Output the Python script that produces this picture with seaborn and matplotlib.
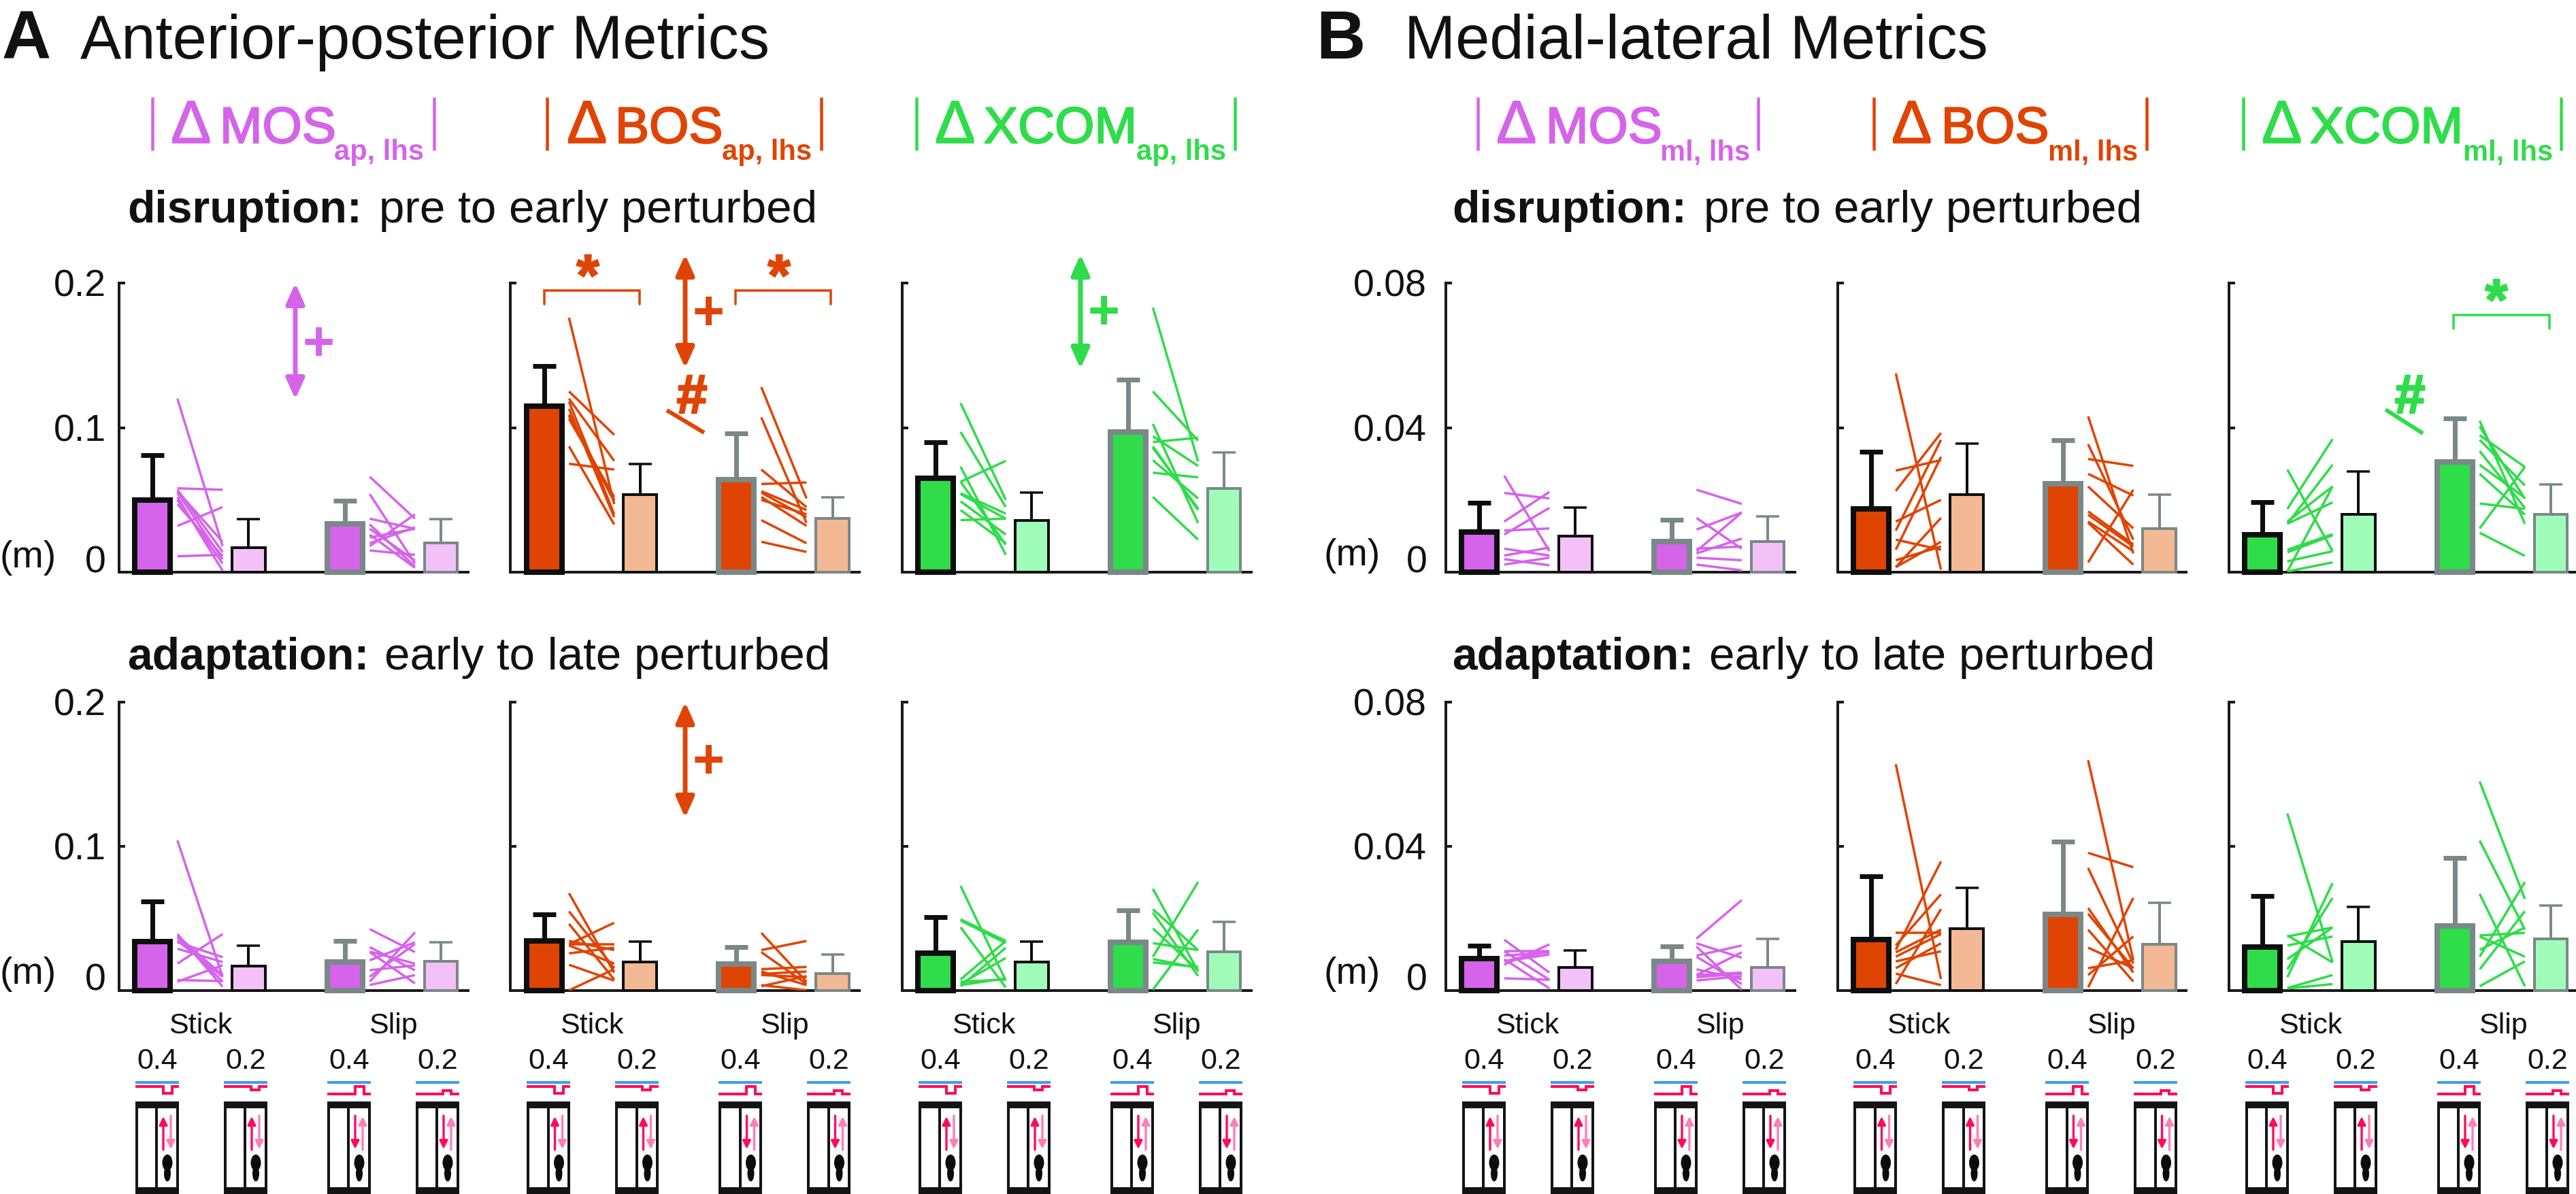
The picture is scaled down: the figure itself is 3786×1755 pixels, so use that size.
import numpy as np
import pandas as pd
import matplotlib
matplotlib.use("Agg")
import matplotlib.pyplot as plt
import matplotlib.patheffects as pe
import seaborn as sns
from matplotlib.patches import Ellipse, Rectangle

sns.set_style("white")
plt.rcParams["font.family"] = ["Liberation Sans", "DejaVu Sans"]

# -- values: bar heights, error tops, subject lines (pre, post)
conds = ["Stick 0.4", "Stick 0.2", "Slip 0.4", "Slip 0.2"]

# anterior-posterior, disruption
ap_dis_mos_bar = [0.050, 0.017, 0.0336, 0.0204]
ap_dis_mos_err = [0.081, 0.0367, 0.0496, 0.0367]
ap_dis_mos_stick = [(.120, .018), (.058, .057), (.032, .045), (.011, .012), (.057, .014),
                    (.055, .009), (.052, .001), (.050, .006), (.047, .011), (.056, .021)]
ap_dis_mos_slip = [(.066, .037), (.054, .006), (.037, .030), (.030, .008), (.024, .030),
                   (.018, .040), (.026, .003), (.033, .004), (.020, .031), (.015, .012)]
ap_dis_bos_bar = [0.115, 0.0537, 0.064, 0.037]
ap_dis_bos_err = [0.1424, 0.0747, 0.096, 0.052]
ap_dis_bos_stick = [(.176, .047), (.125, .095), (.120, .077), (.108, .049), (.087, .033),
                    (.075, .071), (.118, .040), (.109, .050), (.113, .038), (.106, .052)]
ap_dis_bos_slip = [(.128, .051), (.107, .034), (.071, .045), (.061, .062), (.055, .038),
                   (.052, .032), (.050, .040), (.036, .020), (.021, .014), (.056, .043)]
ap_dis_xcom_bar = [0.065, 0.036, 0.097, 0.058]
ap_dis_xcom_err = [0.090, 0.055, 0.133, 0.083]
ap_dis_xcom_stick = [(.117, .050), (.097, .045), (.073, .012), (.0625, .077), (.0546, .0405),
                     (.054, .037), (.049, .026), (.043, .020), (.036, .037), (.0625, .019)]
ap_dis_xcom_slip = [(.183, .0766), (.125, .091), (.1025, .034), (.094, .0735), (.090, .093),
                    (.087, .043), (.0774, .051), (.0688, .0656), (.052, .0225), (.086, .044)]

# anterior-posterior, adaptation
ap_ada_mos_bar = [0.034, 0.0169, 0.0198, 0.0203]
ap_ada_mos_err = [0.0617, 0.0312, 0.0344, 0.0335]
ap_ada_mos_stick = [(.1041, .0096), (.0392, .0027), (.0369, .0062), (.0335, .0232), (.029, .0198),
                    (.0187, .0392), (.0062, .0175), (.0073, .0066), (.0346, .0096), (.038, .0107)]
ap_ada_mos_slip = [(.0426, .0267), (.0301, .0141), (.0267, .005), (.021, .0335), (.0141, .0175),
                   (.0062, .0403), (.0039, .0107), (.0096, .0323), (.027, .0187)]
ap_ada_bos_bar = [0.0344, 0.020, 0.0184, 0.012]
ap_ada_bos_err = [0.0528, 0.034, 0.0303, 0.025]
ap_ada_bos_stick = [(.0675, .0124), (.0549, .0156), (.0462, .0077), (.0321, .047), (.032, .032),
                    (.0258, .0297), (.0344, .0281), (.0179, .0069), (.0002, .0148), (.0313, .0187)]
ap_ada_bos_slip = [(.040, .0061), (.0281, .0344), (.0266, .0046), (.0148, .0164), (.0116, .0132),
                   (.003, .010), (.0038, .0002), (.0132, .0038), (.0108, .0093)]
ap_ada_xcom_bar = [0.0258, 0.020, 0.0336, 0.027]
ap_ada_xcom_err = [0.0509, 0.034, 0.0557, 0.0476]
ap_ada_xcom_stick = [(.0726, .0069), (.0494, .0344), (.0486, .0329), (.0439, .0022), (.0077, .0344),
                     (.003, .0297), (.0046, .0226), (.0061, .0077), (.0038, .0085)]
ap_ada_xcom_slip = [(.0706, .0132), (.0564, .0281), (.0541, .0101), (.0431, .014), (.0329, .0281),
                    (.0234, .0753), (.0219, .0156), (.0195, .0164), (.0006, .0423)]

# medial-lateral, disruption
ml_dis_mos_bar = [0.0112, 0.0099, 0.0084, 0.0084]
ml_dis_mos_err = [0.0192, 0.0178, 0.0145, 0.0154]
ml_dis_mos_stick = [(.0267, .0058), (.0219, .0204), (.014, .0222), (.0115, .0121), (.0104, .0178),
                    (.0065, .0046), (.0046, .0068), (.0036, .0019), (.0021, .004)]
ml_dis_mos_slip = [(.0228, .0189), (.015, .0065), (.0058, .0165), (.0052, .0093), (.004, .0033),
                   (.0021, .0005), (.0118, .0165), (.0065, .0071)]
ml_dis_bos_bar = [0.0176, 0.0215, 0.0244, 0.0121]
ml_dis_bos_err = [0.0334, 0.0355, 0.0365, 0.0215]
ml_dis_bos_stick = [(.055, .0007), (.0281, .031), (.0225, .0385), (.014, .020), (.0062, .0319),
                    (.009, .0062), (.0014, .0084), (.0014, .015), (.0115, .0366), (.0033, .0071)]
ml_dis_bos_slip = [(.0431, .0052), (.0354, .009), (.0313, .0294), (.0272, .0212), (.0237, .0121),
                   (.0168, .0077), (.0159, .0071), (.0027, .0228), (.014, .0058), (.0137, .0021)]
ml_dis_xcom_bar = [0.0104, 0.016, 0.0305, 0.016]
ml_dis_xcom_err = [0.0193, 0.0278, 0.0425, 0.0242]
ml_dis_xcom_stick = [(.0284, .0058), (.0175, .0368), (.0134, .0297), (.014, .0237), (.0134, .0193),
                     (.0062, .0105), (.0055, .0102), (.003, .0058), (.0002, .0027), (.0002, .0237)]
ml_dis_xcom_slip = [(.0419, .0134), (.0403, .0203), (.0379, .0291), (.0297, .0206), (.0272, .0159),
                    (.019, .0175), (.0121, .0291), (.0109, .0045), (.0366, .024), (.0335, .0178)]

# medial-lateral, adaptation
ml_ada_mos_bar = [0.0089, 0.0064, 0.0081, 0.0064]
ml_ada_mos_err = [0.0125, 0.0111, 0.0122, 0.0144]
ml_ada_mos_stick = [(.0141, .005), (.0109, .0109), (.0097, .0106), (.0081, .010), (.0072, .0128),
                    (.0034, .003), (.0087, .0006), (.0109, .003), (.0081, .0109)]
ml_ada_mos_slip = [(.0144, .0251), (.0131, .0091), (.0097, .0125), (.0043, .005), (.0037, .0047),
                   (.0028, .004), (.0122, .0002), (.0059, .0031), (.0043, .0106), (.0094, .0018)]
ml_ada_bos_bar = [0.0141, 0.0172, 0.0212, 0.0128]
ml_ada_bos_err = [0.0317, 0.0284, 0.0414, 0.0243]
ml_ada_bos_stick = [(.0628, .0032), (.0113, .0358), (.016, .016), (.0081, .0109), (.0047, .0015),
                    (.0018, .0226), (.0125, .0267), (.0094, .0157), (.0106, .0169), (.0062, .0131)]
ml_ada_bos_slip = [(.0639, .0085), (.0382, .0342), (.034, .0075), (.0229, .005), (.0213, .0062),
                   (.0119, .0062), (.0062, .0084), (.0009, .0257), (.0043, .015), (.0169, .0025)]
ml_ada_xcom_bar = [0.012, 0.0136, 0.018, 0.0144]
ml_ada_xcom_err = [0.0262, 0.0232, 0.0368, 0.0236]
ml_ada_xcom_stick = [(.0491, .0079), (.015, .0175), (.0037, .0298), (.0059, .0257), (.0087, .0175),
                     (.0153, .0078), (.0007, .0043), (.0006, .0018), (.0125, .015)]
ml_ada_xcom_slip = [(.058, .0254), (.0416, .0169), (.0268, .0012), (.0153, .016), (.0059, .022),
                    (.0012, .0081), (.015, .0094), (.0113, .0175), (.0094, .0301)]

mos_col, mos_light = "#D564EA", "#F3C1F7"
bos_col, bos_light = "#E04403", "#F3B995"
xcom_col, xcom_light = "#2FDC4A", "#9FFDB9"
dark = "#0D0F0E"
grey = "#7A8888"
PX = 0.72  # one pixel in points at dpi 100
W, H = 3787, 1755

fig = plt.figure(figsize=(W / 100, H / 100), dpi=100)


def make_axes(x0, y_top, y_base):
    return fig.add_axes([x0 / W, 1 - y_base / H, 513 / W, (y_base - y_top) / H])


def bar_panel(ax, bars, errs, stick, slip, col, light, ymax, ticks, bottom, pad):
    df = pd.DataFrame({"cond": conds, "val": bars})
    sns.barplot(data=df, x="cond", y="val", hue="cond", palette=[col, light, col, light],
                saturation=1, width=0.37, legend=False, ax=ax, zorder=3)
    edges = [dark, dark, grey, grey]
    for i, p in enumerate(ax.patches[:4]):
        thick = i % 2 == 0
        c = p.get_x() + p.get_width() / 2
        w = 0.368 if thick else 0.345
        p.set_x(c - w / 2)
        p.set_width(w)
        p.set_edgecolor(edges[i])
        p.set_linewidth((8 if thick else 4) * PX)
        p.set_clip_on(False)
        ax.errorbar([i], [bars[i]], yerr=[[0], [errs[i] - bars[i]]], color=edges[i],
                    elinewidth=(7 if thick else 4) * PX, capthick=(7 if thick else 3.5) * PX,
                    capsize=17 * PX, zorder=2)
    for pre, post in stick:
        ax.plot([0.26, 0.73], [pre, post], color=col, lw=3.5 * PX, solid_capstyle="butt", zorder=4)
    for pre, post in slip:
        ax.plot([2.26, 2.73], [pre, post], color=col, lw=3.5 * PX, solid_capstyle="butt", zorder=4)
    ax.set_xlim(-0.347, 3.283)
    ax.set_ylim(0, ymax)
    ax.set_xlabel("")
    ax.set_ylabel("")
    sns.despine(ax=ax)
    for s in ["left", "bottom"]:
        ax.spines[s].set_linewidth(4 * PX)
        ax.spines[s].set_color("#1a1a1a")
    ax.set_yticks(ticks)
    ax.tick_params(axis="y", direction="in", length=9 * PX, width=4 * PX, pad=pad, labelsize=40,
                   left=True, color="#1a1a1a", labelcolor="#111111")
    if pad:
        ax.set_yticklabels(["0", f"{ticks[1]:g}", f"{ticks[2]:g}"])
        ax.get_yticklabels()[0].set_va("baseline")
    else:
        ax.set_yticklabels([])
    ax.set_xticks([0.5, 2.5] if bottom else [])
    if bottom:
        ax.set_xticklabels(["Stick", "Slip"])
        ax.tick_params(axis="x", length=0, labelsize=31, pad=23, labelcolor="#111111")
    ax.patch.set_alpha(0)


rows = [(416, 841), (1032, 1456)]
groups = [
    (175, 0.2, [0, 0.1, 0.2], 14, [
        [(ap_dis_mos_bar, ap_dis_mos_err, ap_dis_mos_stick, ap_dis_mos_slip, mos_col, mos_light),
         (ap_dis_bos_bar, ap_dis_bos_err, ap_dis_bos_stick, ap_dis_bos_slip, bos_col, bos_light),
         (ap_dis_xcom_bar, ap_dis_xcom_err, ap_dis_xcom_stick, ap_dis_xcom_slip, xcom_col, xcom_light)],
        [(ap_ada_mos_bar, ap_ada_mos_err, ap_ada_mos_stick, ap_ada_mos_slip, mos_col, mos_light),
         (ap_ada_bos_bar, ap_ada_bos_err, ap_ada_bos_stick, ap_ada_bos_slip, bos_col, bos_light),
         (ap_ada_xcom_bar, ap_ada_xcom_err, ap_ada_xcom_stick, ap_ada_xcom_slip, xcom_col, xcom_light)]]),
    (2125, 0.08, [0, 0.04, 0.08], 20, [
        [(ml_dis_mos_bar, ml_dis_mos_err, ml_dis_mos_stick, ml_dis_mos_slip, mos_col, mos_light),
         (ml_dis_bos_bar, ml_dis_bos_err, ml_dis_bos_stick, ml_dis_bos_slip, bos_col, bos_light),
         (ml_dis_xcom_bar, ml_dis_xcom_err, ml_dis_xcom_stick, ml_dis_xcom_slip, xcom_col, xcom_light)],
        [(ml_ada_mos_bar, ml_ada_mos_err, ml_ada_mos_stick, ml_ada_mos_slip, mos_col, mos_light),
         (ml_ada_bos_bar, ml_ada_bos_err, ml_ada_bos_stick, ml_ada_bos_slip, bos_col, bos_light),
         (ml_ada_xcom_bar, ml_ada_xcom_err, ml_ada_xcom_stick, ml_ada_xcom_slip, xcom_col, xcom_light)]]),
]

for x_start, ymax, ticks, pad, panel_rows in groups:
    for r, panels in enumerate(panel_rows):
        for k, (bars, errs, stick, slip, col, light) in enumerate(panels):
            ax = make_axes(x_start + k * 575.5, rows[r][0], rows[r][1])
            bar_panel(ax, bars, errs, stick, slip, col, light, ymax, ticks, r == 1, pad if k == 0 else 0)

# overlay in pixel coordinates for text and little drawings
ov = fig.add_axes([0, 0, 1, 1], zorder=10)
ov.set_xlim(0, W)
ov.set_ylim(H, 0)
ov.axis("off")


def txt(x, y, s, size, color="#111111", weight="normal", ha="left", va="baseline", stroke=0):
    t = ov.text(x, y, s, fontsize=size, color=color, fontweight=weight, ha=ha, va=va)
    if stroke:
        t.set_path_effects([pe.withStroke(linewidth=stroke, foreground=color)])
    return t


txt(3, 86, "A", 72, weight="bold")
txt(118, 86, "Anterior-posterior Metrics", 65)
txt(1934, 86, "B", 72, weight="bold")
txt(2064, 86, "Medial-lateral Metrics", 65)

# metric headers: bar, delta, name, subscript, bar
headers = [
    (224, 247, 323, "MOS", 491, "ap, lhs", 638, mos_col),
    (804, 829, 904, "BOS", 1061, "ap, lhs", 1207, bos_col),
    (1347, 1370, 1446, "XCOM", 1670, "ap, lhs", 1815, xcom_col),
    (2172, 2195, 2272, "MOS", 2440, "ml, lhs", 2584, mos_col),
    (2754, 2776, 2853, "BOS", 3010, "ml, lhs", 3155, bos_col),
    (3297, 3320, 3395, "XCOM", 3620, "ml, lhs", 3764, xcom_col),
]
for bl, dx, nx, name, sx, sub, br, c in headers:
    ov.plot([bl, bl], [143, 221], color=c, lw=4.5 * PX, solid_capstyle="butt")
    ov.plot([br, br], [143, 221], color=c, lw=4.5 * PX, solid_capstyle="butt")
    txt(dx + 4, 210, "\u0394", 64, color=c, stroke=1.2)
    txt(nx, 210, name, 54, color=c, stroke=1.6)
    txt(sx, 235, sub, 30, color=c, weight="bold")

for off in [0, 1947]:
    txt(187 + off, 327, "disruption:", 47.5, weight="bold")
    txt(557 + off, 327, "pre to early perturbed", 48.5)
    txt(187 + off, 984, "adaptation:", 47.5, weight="bold")
    txt(565 + off, 984, "early to late perturbed", 48.5)

for x_m, y_tops in [(41, (820, 1432)), (1987, (817, 1432))]:
    for ym in y_tops:
        txt(x_m, ym, "(m)", 40, ha="center", va="center")


def sig_arrow(x, y0, y1, c):
    ov.annotate("", xy=(x, y0), xytext=(x, y1), annotation_clip=False,
                arrowprops=dict(arrowstyle="<|-|>,head_length=18,head_width=8", mutation_scale=1,
                                color=c, lw=5, shrinkA=0, shrinkB=0))


def bracket(x0, x1, y0, y1, c):
    ov.plot([x0, x0, x1, x1], [y1, y0, y0, y1], color=c, lw=3.5 * PX, solid_joinstyle="miter")


def plus(x, y, c):
    txt(x, y + 26, "+", 58, color=c, weight="bold", ha="center")


sig_arrow(434, 416, 587, mos_col)
plus(468, 503, mos_col)
sig_arrow(1007, 374, 541, bos_col)
plus(1041, 458, bos_col)
sig_arrow(1588, 374, 542, xcom_col)
plus(1622, 457, xcom_col)
sig_arrow(1007, 1032, 1202, bos_col)
plus(1041, 1117, bos_col)

bracket(800, 940, 427, 447, bos_col)
bracket(1081, 1221, 427, 447, bos_col)
txt(864, 434, "*", 62, color=bos_col, weight="bold", ha="center", stroke=1.5)
txt(1145, 434, "*", 62, color=bos_col, weight="bold", ha="center", stroke=1.5)
bracket(3606, 3747, 463, 483, xcom_col)
txt(3669, 470, "*", 62, color=xcom_col, weight="bold", ha="center", stroke=1.5)

txt(1017, 607, "#", 58, color=bos_col, weight="bold", ha="center", stroke=2)
ov.plot([980, 1035], [603, 636], color=bos_col, lw=6 * PX, solid_capstyle="butt")
txt(3542, 607, "#", 58, color=xcom_col, weight="bold", ha="center", stroke=2)
ov.plot([3506, 3561], [602, 637], color=xcom_col, lw=6 * PX, solid_capstyle="butt")


def belt_icon(x0, stick_side, big):
    red, blue, pale = "#FF0A5E", "#3C9EF0", "#FF7EB6"
    label = "0.4" if big else "0.2"
    txt(x0 + 32, 1560, label, 31, ha="center", va="center")
    ov.plot([x0, x0 + 64], [1591, 1591], color=blue, lw=4 * PX, solid_capstyle="butt")
    a, b = (41, 54) if big else (40, 52)
    if stick_side:
        yb, yn = 1597, (1607 if big else 1602)
    else:
        yb, yn = 1608, (1597 if big else 1603)
    ov.plot([x0, x0 + a, x0 + a, x0 + b, x0 + b, x0 + 64], [yb, yb, yn, yn, yb, yb],
            color=red, lw=4 * PX, solid_joinstyle="miter", solid_capstyle="butt")
    ov.add_patch(Rectangle((x0, 1619), 64, 10, color="#141414", lw=0))
    ov.add_patch(Rectangle((x0, 1745), 64, 10, color="#141414", lw=0, clip_on=False))
    for xx in [x0 + 2, x0 + 31.5, x0 + 62]:
        ov.plot([xx, xx], [1625, 1750], color="#141414", lw=4 * PX, solid_capstyle="butt")
    up, down = (x0 + 41, x0 + 52)
    up_c, down_c = (red, pale) if stick_side else (pale, red)
    if not stick_side:
        up, down = x0 + 52, x0 + 41
    for xa, yfrom, yto, ca in [(up, 1690, 1641, up_c), (down, 1640, 1689, down_c)]:
        ov.annotate("", xy=(xa, yto), xytext=(xa, yfrom),
                    arrowprops=dict(arrowstyle="-|>,head_length=7,head_width=3.5", mutation_scale=1,
                                    color=ca, lw=2.4, shrinkA=0, shrinkB=0))
    ov.add_patch(Ellipse((x0 + 47, 1709), 15, 24, color="#0c0c0c", lw=0))
    ov.add_patch(Ellipse((x0 + 47, 1725), 10, 23, color="#0c0c0c", lw=0))


for x_start in [175, 2125]:
    for k in range(3):
        base = x_start + k * 575.5
        belt_icon(base + 24, True, True)
        belt_icon(base + 154, True, False)
        belt_icon(base + 306, False, True)
        belt_icon(base + 436, False, False)

fig.savefig("out.png", dpi=100)
